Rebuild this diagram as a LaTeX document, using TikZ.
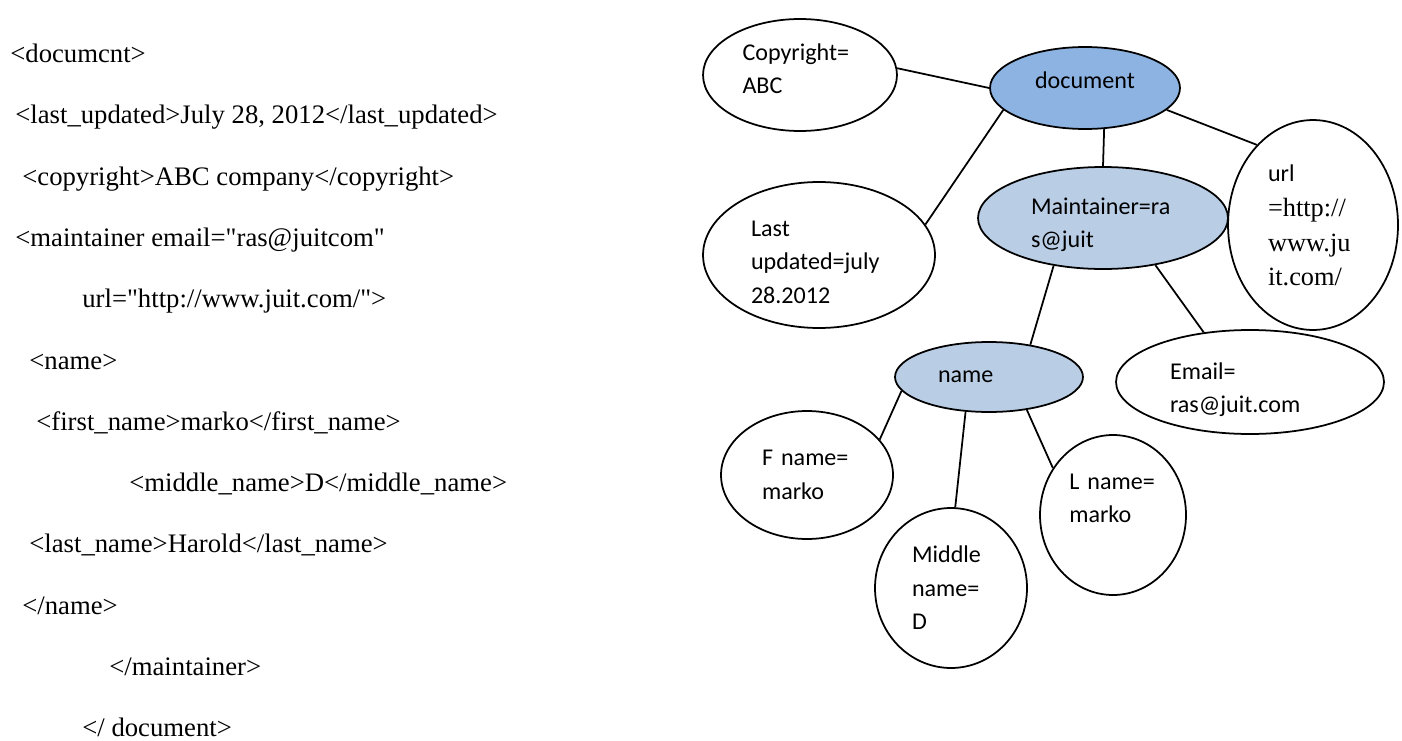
\documentclass[tikz,border=0pt]{standalone}
\usepackage{fontspec}
\setmainfont{Liberation Serif}
\newfontfamily\carlito{Carlito}
\usetikzlibrary{shapes.geometric}
\definecolor{rootblue}{HTML}{8DB3E2}
\definecolor{childblue}{HTML}{B9CDE5}
\newcommand{\urlserif}{\rmfamily\fontsize{15}{20}\selectfont}
\newcommand{\dq}{\textquotedbl}
\tikzset{
  attrnode/.style={
    ellipse,
    draw=black,
    line width=1pt,
    fill=white,
    inner sep=0pt,
    align=left,
    font=\carlito\fontsize{13.7}{19}\selectfont
  },
  rootnode/.style={attrnode, fill=rootblue},
  elemnode/.style={attrnode, fill=childblue},
  link/.style={line width=1pt},
  xmlline/.style={
    anchor=base west,
    inner sep=0pt,
    font=\fontsize{15.2}{18}\selectfont
  }
}

\begin{document}
\begin{tikzpicture}[x=0.02cm, y=-0.02cm]
\useasboundingbox (0,0) rectangle (1402,740);
% xml source
\node[xmlline] (xml1) at (10,62.5) {<documcnt>};
\node[xmlline] (xml2) at (15,123.8) {<last\_updated>July 28, 2012</last\_updated>};
\node[xmlline] (xml3) at (22,185.1) {<copyright>ABC company</copyright>};
\node[xmlline] (xml4) at (15,246.4) {<maintainer email=\dq ras@juitcom\dq};
\node[xmlline] (xml5) at (82,307.7) {url=\dq http://www.juit.com/\dq>};
\node[xmlline] (xml6) at (29,369) {<name>};
\node[xmlline] (xml7) at (36,430.3) {<first\_name>marko</first\_name>};
\node[xmlline] (xml8) at (129,491.6) {<middle\_name>D</middle\_name>};
\node[xmlline] (xml9) at (29,552.9) {<last\_name>Harold</last\_name>};
\node[xmlline] (xml10) at (22,614.2) {</name>};
\node[xmlline] (xml11) at (109,675.5) {</maintainer>};
\node[xmlline] (xml12) at (82,736.8) {</ document>};
% tree
\node[attrnode, minimum width=3.88cm, minimum height=2.24cm, text width=2.3cm, text depth=26pt] (cr) at (800,75) {Copyright=\\ABC};
\node[rootnode, minimum width=3.8cm, minimum height=1.64cm, text depth=9pt] (doc) at (1085,88) {document};
\node[attrnode, minimum width=4.64cm, minimum height=2.92cm, text width=2.72cm, text height=17pt] (last) at (819,255) {Last\\updated=july\\28.2012};
\node[elemnode, minimum width=5cm, minimum height=2.04cm, text width=2.88cm, text height=17pt] (maint) at (1103,218) {Maintainer=ra\\s@juit};
\node[attrnode, minimum width=3.4cm, minimum height=4.2cm, text width=1.8cm] (url) at (1313,225) {url\\\urlserif =http://\\www.ju\\it.com/};
\node[attrnode, minimum width=5.36cm, minimum height=2.08cm, text width=3.2cm, text height=18pt] (email) at (1250,382) {Email=\\ras@juit.com};
\node[elemnode, minimum width=3.76cm, minimum height=1.4cm, text width=2.04cm] (name) at (989,377) {name};
\node[attrnode, minimum width=3.44cm, minimum height=2.56cm, text width=1.8cm] (fname) at (807,475) {F name=\\marko};
\node[attrnode, minimum width=3.04cm, minimum height=3.2cm, text width=1.56cm] (mname) at (951,588) {Middle\\name=\\D};
\node[attrnode, minimum width=2.92cm, minimum height=3.2cm, text width=1.75cm] (lname) at (1113,515) {L name=\\marko\\~};
\foreach \a/\b in {cr.4/doc.180, doc.195/last.16, doc.-65/maint.north, doc.-15/url.125,
                   maint.224/name.38, maint.-42/email.133,
                   name.189/fname.26, name.236/mname.87, name.-41/lname.142} {
  \draw[link] (\a) -- (\b);
}
\end{tikzpicture}
\end{document}
